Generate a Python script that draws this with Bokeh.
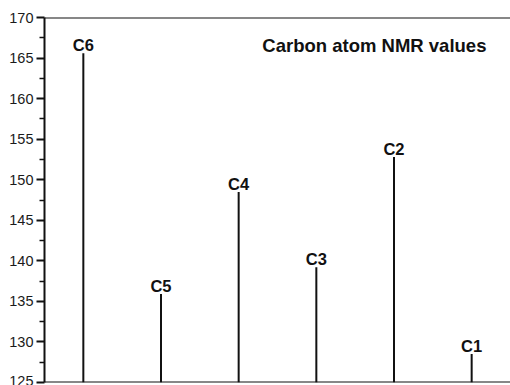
from bokeh.plotting import figure
from bokeh.models import Range1d, FixedTicker, Span, Label, ColumnDataSource
from bokeh.core.properties import value
from bokeh.embed import file_html
from bokeh.resources import INLINE

# Carbon atoms and their NMR shift values (ppm)
atoms = ["C6", "C5", "C4", "C3", "C2", "C1"]
shifts = [165.6, 135.9, 148.5, 139.2, 152.8, 128.5]
positions = [1, 2, 3, 4, 5, 6]

Y_MIN, Y_MAX, STEP = 125, 170, 5
FONT = "Liberation Sans"

src = ColumnDataSource(dict(
    x=positions,
    base=[Y_MIN] * len(atoms),
    y=shifts,
    name=atoms,
))

p = figure(
    width=510, height=385,
    x_range=Range1d(0.5, 6.5), y_range=Range1d(Y_MIN, Y_MAX),
    output_backend="svg", toolbar_location=None,
    x_axis_location=None,
    min_border_left=44, min_border_top=17, min_border_right=0, min_border_bottom=3,
)
p.outline_line_color = None
p.grid.visible = False
p.background_fill_color = "white"
p.border_fill_color = "white"

# y axis: major tick every 5 ppm, one minor tick halfway between
majors = list(range(Y_MIN, Y_MAX + 1, STEP))
minors = [m + STEP / 2 for m in majors[:-1]]
ax = p.yaxis[0]
ax.ticker = FixedTicker(ticks=majors, minor_ticks=minors)
ax.axis_line_width = 2
ax.axis_line_color = "#111111"
ax.major_tick_in = 0
ax.major_tick_out = 8
ax.major_tick_line_width = 2
ax.major_tick_line_color = "#111111"
ax.minor_tick_in = 0
ax.minor_tick_out = 5
ax.minor_tick_line_width = 1.5
ax.minor_tick_line_color = "#111111"
ax.major_label_text_font = FONT
ax.major_label_text_font_size = "14.5px"
ax.major_label_text_color = "#1a1a1a"
ax.major_label_standoff = 3

# frame lines at top and bottom
p.add_layout(Span(location=Y_MAX, dimension="width", line_color="#111111", line_width=2))
p.add_layout(Span(location=Y_MIN, dimension="width", line_color="#111111", line_width=2))

# stems
p.segment(x0="x", y0="base", x1="x", y1="y", source=src,
          line_color="#111111", line_width=2)

# atom labels above stems
p.text(x="x", y="y", text="name", source=src,
       text_font=value(FONT), text_font_style="bold", text_font_size="16.5px",
       text_align="center", text_baseline="alphabetic", y_offset=-8,
       text_color="#111111")

title = Label(x=6.19, y=166.5, text="Carbon atom NMR values",
              text_font=FONT, text_font_style="bold", text_font_size="18.5px",
              text_align="right", text_baseline="alphabetic", text_color="#111111")
p.add_layout(title)

open("out.html", "w").write(file_html(p, INLINE))
